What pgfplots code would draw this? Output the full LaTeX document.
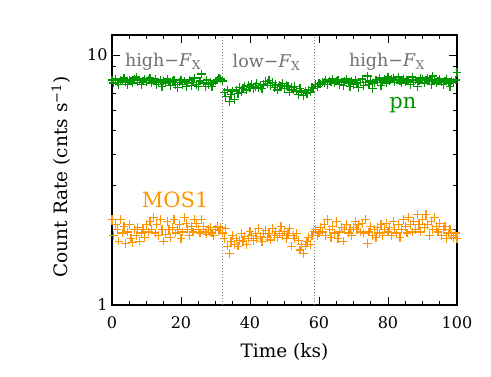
\documentclass[border=0pt]{standalone}
\usepackage{pgfplots}
\pgfplotsset{compat=1.18}
\usepackage{fontspec}
\setmainfont{DejaVu Serif}
\definecolor{pngreen}{RGB}{0,150,0}
\definecolor{mosorange}{RGB}{255,148,0}
\definecolor{annot}{RGB}{112,112,112}
\definecolor{dotc}{RGB}{125,125,125}
\begin{document}
\begin{tikzpicture}
\useasboundingbox (-112pt,-72pt) rectangle (379pt,305pt);
\begin{axis}[
  at={(0pt,0pt)}, anchor=south west,
  scale only axis, width=345pt, height=270pt,
  ymode=log, xmin=0, xmax=100, ymin=1, ymax=12.02,
  xtick={0,20,...,100}, minor x tick num=3,
  ytick={1,10}, yticklabels={1,10},
  major tick length=8pt, minor tick length=4pt,
  axis line style={line width=1.1pt}, every tick/.style={black, line width=0.9pt},
  /pgf/number format/assume math mode=true,
  tick label style={font=\fontsize{16}{19}\selectfont},
  xticklabel style={yshift=-8pt},
  yticklabel style={xshift=-1pt},
  label style={font=\fontsize{18.5}{22}\selectfont},
  xlabel={Time (ks)}, ylabel={Count Rate (cnts s\textsuperscript{−1})},
  xlabel style={at={(axis description cs:0.5,0)}, anchor=base, yshift=-53pt},
  ylabel style={at={(axis description cs:-0.148,0.474)}, anchor=center},
  clip=false,
]
\addplot[dotc, dash pattern=on 1.4pt off 1.6pt, line width=1.6pt] coordinates {(32,1) (32,12.02)};
\addplot[dotc, dash pattern=on 1.4pt off 1.6pt, line width=1.6pt] coordinates {(58.7,1) (58.7,12.02)};
\addplot[only marks, mark=+, mark size=4.3pt, pngreen, line width=1.2pt] coordinates {
(0,7.94)(0.5,7.72)(1,8.02)(1.5,7.79)(2,7.64)(2.5,7.94)(3,7.87)(3.5,8.09)(4,7.79)(4.5,7.64)
(5,7.94)(5.5,7.87)(6,7.72)(6.5,8.02)(7,8.17)(7.5,7.79)(8,7.94)(8.5,7.64)(9,7.87)(9.5,8.02)
(10,7.79)(10.5,7.94)(11,8.09)(11.5,7.72)(12,7.87)(12.5,8.02)(13,7.64)(13.5,7.79)(14,7.94)(14.5,7.49)
(15,7.87)(15.5,7.72)(16,8.02)(16.5,7.79)(17,7.57)(17.5,7.87)(18,7.94)(18.5,7.64)(19,7.42)(19.5,7.79)
(20,7.94)(20.5,7.64)(21,7.87)(21.5,7.49)(22,7.72)(22.5,7.94)(23,7.57)(23.5,7.79)(24,8.09)(24.5,7.64)
(25,7.49)(25.5,7.87)(26,8.39)(26.5,7.72)(27,7.49)(27.5,7.94)(28,7.64)(28.5,7.79)(29,7.49)(29.5,7.72)
(30,7.87)(30.5,7.94)(31,8.09)(31.5,8.02)(32,7.87)(32.5,7.1)(33,6.8)(33.5,7.25)(34,6.5)(34.5,6.95)
(35,7.18)(35.5,6.65)(36,7.25)(36.5,7.03)(37,7.4)(37.5,7.1)(38,7.33)(38.5,7.48)(39,7.25)(39.5,7.55)
(40,7.4)(40.5,7.63)(41,7.33)(41.5,7.48)(42,7.7)(42.5,7.4)(43,7.55)(43.5,7.33)(44,7.63)(44.5,7.85)
(45,7.7)(45.5,7.93)(46,7.55)(46.5,7.78)(47,7.4)(47.5,7.63)(48,7.25)(48.5,7.55)(49,7.48)(49.5,7.7)
(50,7.33)(50.5,7.55)(51,7.48)(51.5,7.1)(52,7.4)(52.5,7.25)(53,7.48)(53.5,7.18)(54,6.95)(54.5,7.33)
(55,7.1)(55.5,6.88)(56,7.18)(56.5,7.03)(57,7.25)(57.5,7.1)(58,7.4)(58.5,7.33)(59,7.6)(59.5,7.5)
(60,7.7)(60.5,7.65)(61,7.8)(61.5,7.75)(62,7.94)(62.5,7.64)(63,7.87)(63.5,7.79)(64,8.02)(64.5,7.72)
(65,7.87)(65.5,7.94)(66,7.64)(66.5,7.79)(67,7.57)(67.5,7.87)(68,8.02)(68.5,7.72)(69,7.49)(69.5,7.87)
(70,7.64)(70.5,7.94)(71,7.72)(71.5,7.42)(72,7.79)(72.5,8.02)(73,7.57)(73.5,7.79)(74,8.24)(74.5,7.64)
(75,7.87)(75.5,7.34)(76,7.72)(76.5,7.94)(77,7.79)(77.5,8.09)(78,7.57)(78.5,7.87)(79,8.02)(79.5,7.72)
(80,8.17)(80.5,7.87)(81,8.02)(81.5,8.09)(82,7.79)(82.5,7.94)(83,8.17)(83.5,7.87)(84,7.72)(84.5,8.02)
(85,7.79)(85.5,7.94)(86,7.87)(86.5,7.64)(87,8.17)(87.5,7.79)(88,7.94)(88.5,7.49)(89,7.87)(89.5,8.09)
(90,8.02)(90.5,7.72)(91,7.94)(91.5,8.09)(92,7.87)(92.5,7.64)(93,8.24)(93.5,7.94)(94,7.72)(94.5,7.87)
(95,8.02)(95.5,7.79)(96,7.64)(96.5,7.87)(97,8.02)(97.5,7.72)(98,7.49)(98.5,7.87)(99,7.79)(99.5,7.94)
(100,8.5)
};
\addplot[only marks, mark=+, mark size=4.3pt, mosorange, line width=1.2pt] coordinates {
(0,2.2)(0.5,1.9)(1,2.1)(1.5,2.0)(2,1.8)(2.5,2.2)(3,1.94)(3.5,2.06)(4,1.76)(4.5,1.96)
(5,2.1)(5.5,1.84)(6,1.78)(6.5,2.0)(7,1.9)(7.5,2.04)(8,1.8)(8.5,1.94)(9,2.0)(9.5,1.86)
(10,2.1)(10.5,1.96)(11,2.16)(11.5,2.0)(12,2.24)(12.5,1.94)(13,2.1)(13.5,1.9)(14,2.2)(14.5,2.0)
(15,1.8)(15.5,1.92)(16,2.16)(16.5,2.0)(17,1.86)(17.5,2.04)(18,2.2)(18.5,1.94)(19,2.0)(19.5,2.1)
(20,1.84)(20.5,1.96)(21,2.24)(21.5,2.12)(22,2.0)(22.5,1.9)(23,2.06)(23.5,1.96)(24,2.2)(24.5,2.12)
(25,2.0)(25.5,1.94)(26,2.2)(26.5,2.06)(27,1.96)(27.5,1.92)(28,2.0)(28.5,2.04)(29,1.94)(29.5,1.9)
(30,2.0)(30.5,2.06)(31,1.98)(31.5,2.04)(32,1.94)(32.5,1.84)(33,2.02)(33.5,1.72)(34,1.61)(34.5,1.79)
(35,1.9)(35.5,1.75)(36,1.84)(36.5,1.72)(37,1.81)(37.5,1.93)(38,1.79)(38.5,1.88)(39,1.75)(39.5,1.84)
(40,1.97)(40.5,1.9)(41,1.81)(41.5,1.93)(42,1.84)(42.5,2.02)(43,1.88)(43.5,1.79)(44,1.93)(44.5,1.99)
(45,1.86)(45.5,1.93)(46,1.82)(46.5,2.02)(47,1.9)(47.5,1.97)(48,1.86)(48.5,1.93)(49,2.06)(49.5,1.9)
(50,1.97)(50.5,1.84)(51,1.93)(51.5,2.02)(52,1.72)(52.5,1.9)(53,1.84)(53.5,1.93)(54,1.81)(54.5,1.66)
(55,1.75)(55.5,1.61)(56,1.72)(56.5,1.79)(57,1.86)(57.5,1.75)(58,1.9)(58.5,1.97)(59,2.0)(59.5,1.9)
(60,1.94)(60.5,2.04)(61,1.96)(61.5,2.1)(62,1.9)(62.5,2.2)(63,2.0)(63.5,1.86)(64,2.06)(64.5,1.94)
(65,2.16)(65.5,1.84)(66,1.96)(66.5,2.04)(67,1.8)(67.5,2.0)(68,2.1)(68.5,1.94)(69,2.0)(69.5,1.9)
(70,2.04)(70.5,2.16)(71,2.0)(71.5,2.1)(72,1.96)(72.5,2.12)(73,1.94)(73.5,2.2)(74,1.76)(74.5,1.96)
(75,2.06)(75.5,1.9)(76,2.0)(76.5,1.86)(77,2.04)(77.5,1.94)(78,2.1)(78.5,1.9)(79,2.0)(79.5,2.12)
(80,1.96)(80.5,2.04)(81,1.9)(81.5,2.16)(82,2.0)(82.5,1.94)(83,2.1)(83.5,1.86)(84,2.0)(84.5,2.2)
(85,2.06)(85.5,1.94)(86,2.24)(86.5,2.1)(87,1.96)(87.5,2.16)(88,2.0)(88.5,2.3)(89,2.1)(89.5,1.96)
(90,2.2)(90.5,2.04)(91,2.3)(91.5,2.1)(92,1.9)(92.5,2.16)(93,2.0)(93.5,2.24)(94,2.06)(94.5,1.96)
(95,2.12)(95.5,1.9)(96,2.0)(96.5,2.06)(97,1.84)(97.5,1.94)(98,2.0)(98.5,1.9)(99,1.86)(99.5,1.94)
(100,1.84)
};
\node[annot, font=\fontsize{17.5}{21}\selectfont] at (axis cs:14.8,9.37) {high−\textit{F}\textsubscript{X}};
\node[annot, font=\fontsize{17.5}{21}\selectfont] at (axis cs:44.8,9.37) {low−\textit{F}\textsubscript{X}};
\node[annot, font=\fontsize{17.5}{21}\selectfont] at (axis cs:79.7,9.37) {high−\textit{F}\textsubscript{X}};
\node[pngreen, font=\fontsize{21}{25}\selectfont] at (axis cs:84.3,6.31) {pn};
\node[mosorange, font=\fontsize{21}{25}\selectfont] at (axis cs:18.3,2.63) {MOS1};
\end{axis}
\end{tikzpicture}
\end{document}
